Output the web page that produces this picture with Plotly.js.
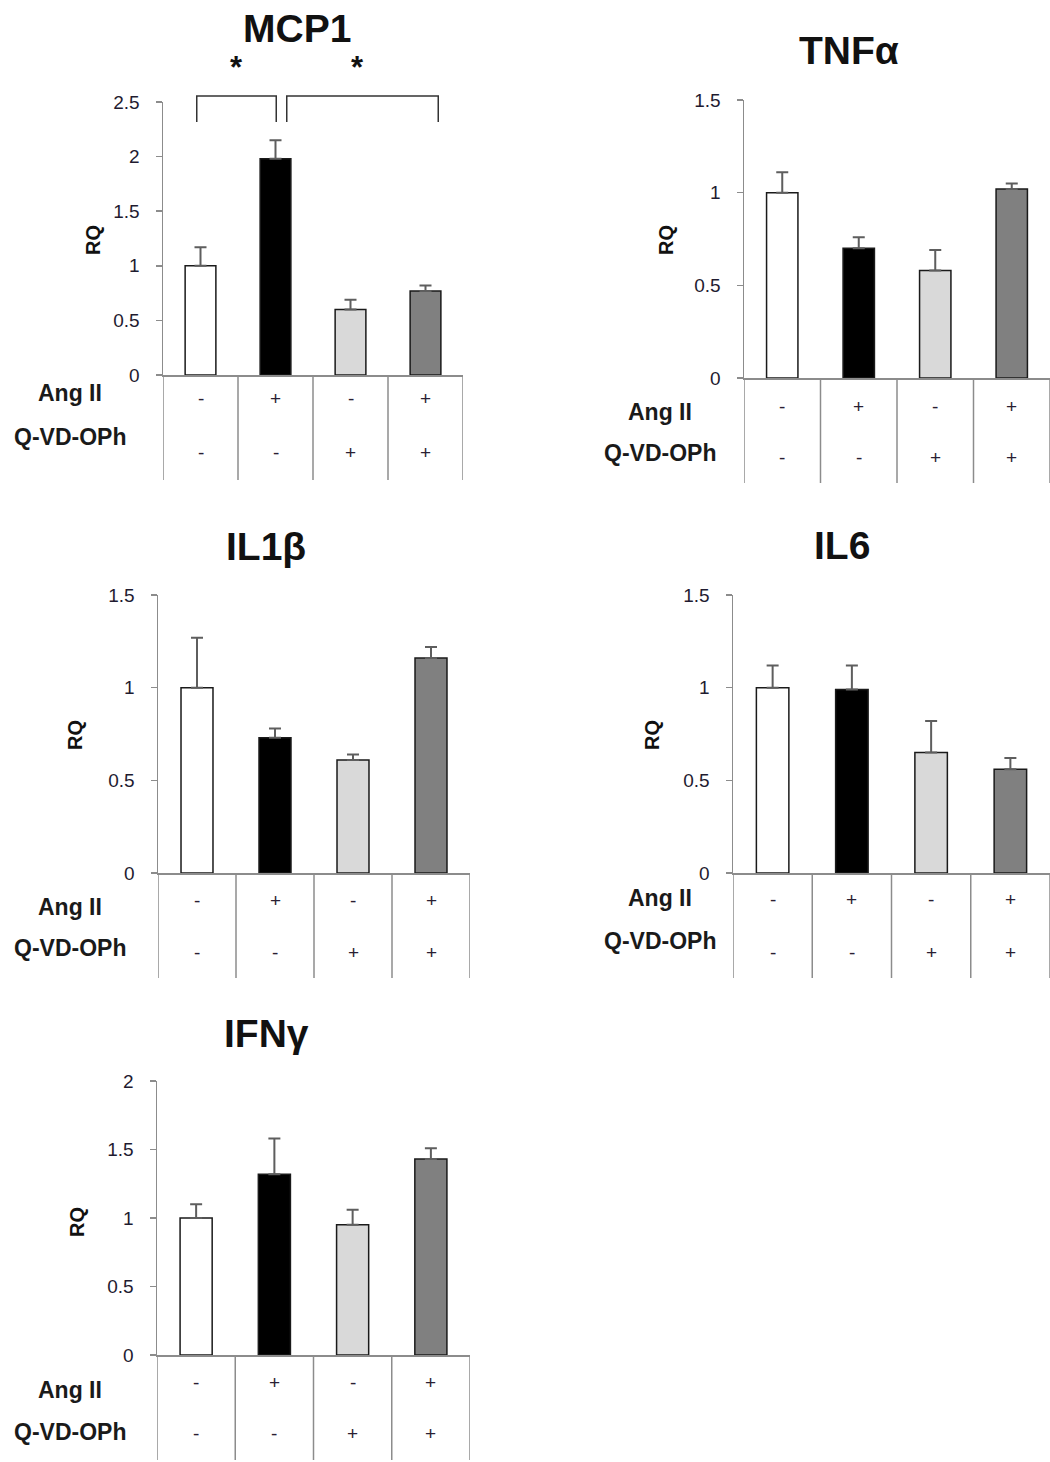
<!DOCTYPE html>
<html>
<head>
<meta charset="utf-8">
<script src="https://cdn.plot.ly/plotly-3.0.1.min.js"></script>
<style>html,body{margin:0;padding:0;background:#fff;}#chart{width:1050px;height:1462px;}</style>
</head>
<body>
<div id="chart"></div>
<script>
// ---------- DATA ----------
const groups = ['Ctrl', 'Ang II', 'Q-VD-OPh', 'Ang II + Q-VD-OPh'];
const angII = ['-', '+', '-', '+'];
const qvdOPh = ['-', '-', '+', '+'];
const rowLabels = ['Ang II', 'Q-VD-OPh'];
const barColors = ['#ffffff', '#000000', '#d9d9d9', '#808080'];

const mcp1Mean = [1.00, 1.98, 0.60, 0.77];
const mcp1Err  = [0.17, 0.17, 0.09, 0.05];
const tnfMean  = [1.00, 0.70, 0.58, 1.02];
const tnfErr   = [0.11, 0.06, 0.11, 0.03];
const il1Mean  = [1.00, 0.73, 0.61, 1.16];
const il1Err   = [0.27, 0.05, 0.03, 0.06];
const il6Mean  = [1.00, 0.99, 0.65, 0.56];
const il6Err   = [0.12, 0.13, 0.17, 0.06];
const ifnMean  = [1.00, 1.32, 0.95, 1.43];
const ifnErr   = [0.10, 0.26, 0.11, 0.08];

const mcp1Comparisons = [[0, 1], [1, 3]]; // significant pairs (*)
const yLabel = 'RQ';

// ---------- LAYOUT (pixel geometry) ----------
const W = 1050, H = 1462;
const px = p => p / W;
const py = p => 1 - p / H;

const panels = [
  {title: 'MCP1', mean: mcp1Mean, err: mcp1Err, yMax: 2.5,
   left: 163, right: 463, top: 102, zero: 375, bottom: 480,
   titleXY: [297, 28], rqXY: [93, 240], rowX: 70, rowY: [393, 437], signY: [398, 452]},
  {title: 'TNFα', mean: tnfMean, err: tnfErr, yMax: 1.5,
   left: 744, right: 1050, top: 100, zero: 378, bottom: 483,
   titleXY: [849, 51], rqXY: [666, 240], rowX: 660, rowY: [412, 453], signY: [406, 457]},
  {title: 'IL1β', mean: il1Mean, err: il1Err, yMax: 1.5,
   left: 158, right: 470, top: 595, zero: 873, bottom: 978,
   titleXY: [266, 547], rqXY: [75, 735], rowX: 70, rowY: [907, 948], signY: [900, 953]},
  {title: 'IL6', mean: il6Mean, err: il6Err, yMax: 1.5,
   left: 733, right: 1050, top: 595, zero: 873, bottom: 978,
   titleXY: [842, 545], rqXY: [652, 735], rowX: 660, rowY: [898, 941], signY: [899, 953]},
  {title: 'IFNγ', mean: ifnMean, err: ifnErr, yMax: 2,
   left: 157, right: 470, top: 1081, zero: 1355, bottom: 1460,
   titleXY: [266, 1033], rqXY: [77, 1222], rowX: 70, rowY: [1390, 1432], signY: [1382, 1433]}
];
// bracket geometry for MCP1 (pixels): top line, leg ends, asterisk row
const bracketPx = {top: 96, end: 122, star: 68};
const bracketOffsets = [[-0.05, 0.01], [0.15, 0.17]];

const FONT = 'Liberation Sans, Arial, Helvetica, sans-serif';
const axisGray = '#8c8c8c';
const traces = [];
const shapes = [];
const annotations = [];
const layout = {
  width: W, height: H,
  margin: {l: 0, r: 0, t: 0, b: 0},
  paper_bgcolor: '#ffffff', plot_bgcolor: 'rgba(0,0,0,0)',
  showlegend: false,
  font: {family: FONT, color: '#222'},
  shapes: shapes, annotations: annotations
};

panels.forEach((p, i) => {
  const n = i + 1;
  const xa = 'x' + (n === 1 ? '' : n), ya = 'y' + (n === 1 ? '' : n);
  const xKey = 'xaxis' + (n === 1 ? '' : n), yKey = 'yaxis' + (n === 1 ? '' : n);

  traces.push({
    type: 'bar', x: groups, y: p.mean, xaxis: xa, yaxis: ya, width: 0.41,
    marker: {color: barColors, line: {color: '#1a1a1a', width: 1.5}},
    error_y: {type: 'data', array: p.err, arrayminus: p.err.map(() => 0), symmetric: false,
              color: '#5e5e5e', thickness: 2, width: 6},
    hoverinfo: 'y'
  });

  layout[xKey] = {
    domain: [px(p.left), px(p.right)], anchor: ya,
    range: [-0.5, 3.5], type: 'category',
    showticklabels: false, ticks: '', showgrid: false, zeroline: false,
    showline: true, linecolor: axisGray, linewidth: 1.5, fixedrange: true
  };
  layout[yKey] = {
    domain: [py(p.zero), py(p.top)], anchor: xa,
    range: [0, p.yMax], dtick: 0.5, tick0: 0,
    showgrid: false, zeroline: false, showline: true, linecolor: axisGray, linewidth: 1.5,
    ticks: 'outside', ticklen: 6, tickcolor: axisGray, tickwidth: 1.5,
    ticklabelstandoff: 12,
    tickfont: {family: FONT, size: 19, color: '#1f1b30'}, fixedrange: true
  };

  // table under the plot: y-axis extension + category separators
  for (let k = -0.5; k <= 3.5; k += 1) {
    shapes.push({type: 'line', xref: xa, yref: 'paper', x0: k, x1: k,
                 y0: py(p.zero), y1: py(p.bottom), line: {color: axisGray, width: 1.5}});
  }
  // signs
  groups.forEach((g, j) => {
    annotations.push({xref: xa, yref: 'paper', x: j, y: py(p.signY[0]), text: angII[j],
      showarrow: false, xanchor: 'center', yanchor: 'middle', font: {family: FONT, size: 19, color: '#2a1f33'}});
    annotations.push({xref: xa, yref: 'paper', x: j, y: py(p.signY[1]), text: qvdOPh[j],
      showarrow: false, xanchor: 'center', yanchor: 'middle', font: {family: FONT, size: 19, color: '#2a1f33'}});
  });
  // row labels
  rowLabels.forEach((lab, r) => {
    annotations.push({xref: 'paper', yref: 'paper', x: px(p.rowX), y: py(p.rowY[r]), text: lab,
      showarrow: false, xanchor: 'center', yanchor: 'middle',
      font: {family: FONT, size: 23, color: '#1a1a1a', weight: 'bold'}});
  });
  // title
  annotations.push({xref: 'paper', yref: 'paper', x: px(p.titleXY[0]), y: py(p.titleXY[1]), text: p.title,
    showarrow: false, xanchor: 'center', yanchor: 'middle',
    font: {family: FONT, size: 39, color: '#111', weight: 'bold'}});
  // RQ
  annotations.push({xref: 'paper', yref: 'paper', x: px(p.rqXY[0]), y: py(p.rqXY[1]), text: yLabel,
    showarrow: false, xanchor: 'center', yanchor: 'middle', textangle: -90,
    font: {family: FONT, size: 20, color: '#111', weight: 'bold'}});

  // significance brackets (MCP1 only)
  if (i === 0) {
    const yTop = py(bracketPx.top), yEnd = py(bracketPx.end);
    mcp1Comparisons.forEach(([a, b], c) => {
      const xa0 = a + bracketOffsets[c][0], xb0 = b + bracketOffsets[c][1];
      shapes.push({type: 'path', xref: xa, yref: 'paper',
        path: `M ${xa0} ${yEnd} L ${xa0} ${yTop} L ${xb0} ${yTop} L ${xb0} ${yEnd}`,
        line: {color: '#333', width: 1.5}});
      annotations.push({xref: xa, yref: 'paper', x: (xa0 + xb0) / 2 - (c === 0 ? 0 : 0.07), y: py(bracketPx.star), text: '*',
        showarrow: false, xanchor: 'center', yanchor: 'middle',
        font: {family: FONT, size: 31, color: '#111', weight: 'bold'}});
    });
  }
});

Plotly.newPlot('chart', traces, layout, {staticPlot: true, displayModeBar: false});
</script>
</body>
</html>
